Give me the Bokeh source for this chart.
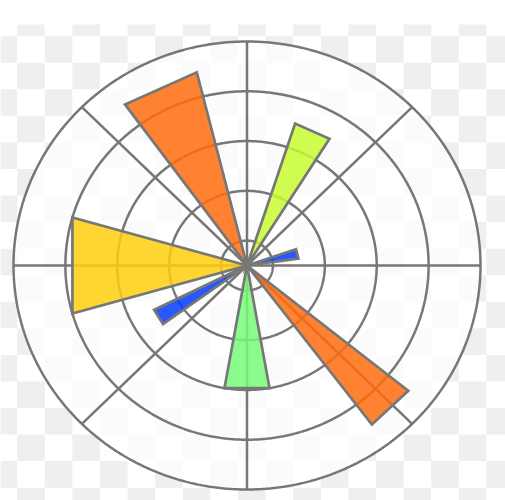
import numpy as np
from bokeh.plotting import figure
from bokeh.models import Range1d
from bokeh.embed import file_html
from bokeh.resources import INLINE

# ---- data ----
radii = [2, 6, 8, 7, 4, 5, 8]
theta_start = [8, 58, 104, 164, 206.5, 260, 307]    # degrees
theta_end = [19, 72, 126, 196, 216, 280, 321]       # degrees
bar_colors = ["#003cff", "#c8fc31", "#ff6c0e", "#ffce0e", "#003cff", "#77fb77", "#ff6c0e"]
ring_radii = [1, 3, 5, 7, 9]
spoke_angles = [0, 45, 90, 135, 180, 225, 270, 315]
r_max = 9

# ---- layout ----
W, H = 505, 500
cx, cy = 246.5, 265.0          # centre in pixels
sx, sy = 233.5 / r_max, 224.0 / r_max   # pixels per unit
x0, x1 = -cx / sx, (W - cx) / sx
y0, y1 = -(H - cy) / sy, cy / sy

p = figure(width=W, height=H, x_range=Range1d(x0, x1), y_range=Range1d(y0, y1),
           output_backend="svg", toolbar_location=None, min_border=0,
           x_axis_location=None, y_axis_location=None,
           background_fill_color="white", border_fill_color="white",
           outline_line_color=None)
p.grid.visible = False

# ---- checkerboard background (decoration) ----
cw, ch = 27.6, 26.56
left, right, top, bottom = [], [], [], []
for j in range(20):
    ya = 9.1 + j * ch
    yb = ya + ch
    ya_c, yb_c = max(ya, 24.0), min(yb, H)
    if yb_c <= ya_c:
        continue
    for k in range(-1, 19):
        if (k + j) % 2 != 0:
            continue
        xa = 16.7 + k * cw
        xb = xa + cw
        xa_c, xb_c = max(xa, 0), min(xb, W)
        if xb_c <= xa_c:
            continue
        left.append(x0 + xa_c / sx)
        right.append(x0 + xb_c / sx)
        top.append(y1 - ya_c / sy)
        bottom.append(y1 - yb_c / sy)
p.quad(left=left, right=right, top=top, bottom=bottom,
       fill_color="#efefef", line_color=None)

# ---- polar area ----
t = np.linspace(0, 2 * np.pi, 721)
p.patch(r_max * np.cos(t), r_max * np.sin(t), fill_color="white",
        fill_alpha=0.75, line_color=None)

grid_col = "#777777"
p.multi_line([list(r * np.cos(t)) for r in ring_radii],
             [list(r * np.sin(t)) for r in ring_radii],
             line_color=grid_col, line_width=2.5)
p.multi_line([[0, r_max * np.cos(np.radians(a))] for a in spoke_angles],
             [[0, r_max * np.sin(np.radians(a))] for a in spoke_angles],
             line_color=grid_col, line_width=2.5)

# ---- bars (straight-edged wedges, as in the logo) ----
xs, ys = [], []
for r, a, b in zip(radii, theta_start, theta_end):
    ang = np.radians([a, b])
    xs.append([0.0] + list(r * np.cos(ang)))
    ys.append([0.0] + list(r * np.sin(ang)))
p.patches(xs, ys, fill_color=bar_colors, fill_alpha=0.85,
          line_color=grid_col, line_width=2.7, line_join="miter")

open("out.html", "w").write(file_html(p, INLINE))
